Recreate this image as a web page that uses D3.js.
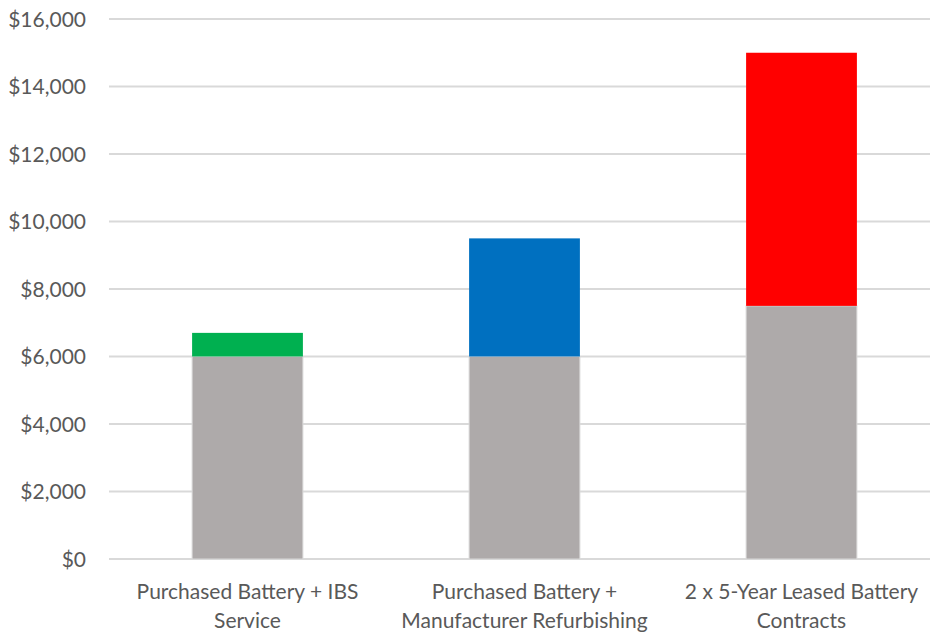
<!DOCTYPE html>
<html>
<head>
<meta charset="utf-8">
<script src="https://cdn.jsdelivr.net/npm/d3@7"></script>
<style>
  body { margin: 0; background: #fff; }
  svg text { font-family: Lato, "Open Sans", sans-serif; fill: #595959; }
</style>
</head>
<body>
<script>
var categories = ["Purchased Battery + IBS Service", "Purchased Battery + Manufacturer Refurbishing", "2 x 5-Year Leased Battery Contracts"];
var categoryLines = [
  ["Purchased Battery + IBS", "Service"],
  ["Purchased Battery +", "Manufacturer Refurbishing"],
  ["2 x 5-Year Leased Battery", "Contracts"]
];
var baseCost = [6000, 6000, 7500];
var extraCost = [700, 3500, 7500];
var extraColors = ["#00B050", "#0070C0", "#FF0000"];
var yTicks = [0, 2000, 4000, 6000, 8000, 10000, 12000, 14000, 16000];

var size = { width: 930, height: 632 };
var margin = { top: 19, right: 0, bottom: 73, left: 109 };

var svg = d3.select("body").append("svg")
  .attr("width", size.width)
  .attr("height", size.height);

var x = d3.scaleBand()
  .domain(categories)
  .range([margin.left, 940])
  .paddingInner(0.6)
  .paddingOuter(0.3);

var y = d3.scaleLinear()
  .domain([0, 16000])
  .range([size.height - margin.bottom, margin.top]);

// gridlines
svg.append("g")
  .selectAll("line")
  .data(yTicks)
  .enter()
  .append("line")
  .attr("x1", margin.left)
  .attr("x2", size.width)
  .attr("y1", function(d) { return y(d); })
  .attr("y2", function(d) { return y(d); })
  .attr("stroke", "#d9d9d9")
  .attr("stroke-width", 2);

// y axis labels
var yAxis = svg.append("g")
  .attr("transform", "translate(" + (margin.left - 23) + ",0)")
  .call(d3.axisLeft(y).tickValues(yTicks).tickSize(0).tickPadding(0)
    .tickFormat(function(d) { return "$" + d3.format(",")(d); }));
yAxis.select(".domain").remove();
yAxis.selectAll("text")
  .style("font-size", "21px")
  .attr("fill", "#595959")
  .attr("dy", "0.35em");

// base (gray) bars
svg.append("g")
  .selectAll("rect")
  .data(baseCost)
  .enter()
  .append("rect")
  .attr("x", function(d, i) { return x(categories[i]); })
  .attr("width", x.bandwidth())
  .attr("y", function(d) { return y(d); })
  .attr("height", function(d) { return y(0) - y(d); })
  .attr("fill", "#AEAAAA")
  .attr("stroke", "#d9d9d9")
  .attr("stroke-width", 1);

// extra (colored) bars stacked on top
svg.append("g")
  .selectAll("rect")
  .data(extraCost)
  .enter()
  .append("rect")
  .attr("x", function(d, i) { return x(categories[i]); })
  .attr("width", x.bandwidth())
  .attr("y", function(d, i) { return y(baseCost[i] + d); })
  .attr("height", function(d, i) { return y(baseCost[i]) - y(baseCost[i] + d); })
  .attr("fill", function(d, i) { return extraColors[i]; });

// category labels
var labels = svg.append("g")
  .selectAll("text")
  .data(categories)
  .enter()
  .append("text")
  .attr("text-anchor", "middle")
  .style("font-size", "21px")
  .attr("x", function(d) { return x(d) + x.bandwidth() / 2; });

labels.selectAll("tspan")
  .data(function(d, i) { return categoryLines[i]; })
  .enter()
  .append("tspan")
  .attr("x", function() { return d3.select(this.parentNode).attr("x"); })
  .attr("y", function(d, j) { return 599 + j * 29; })
  .text(function(d) { return d; });
</script>
</body>
</html>
